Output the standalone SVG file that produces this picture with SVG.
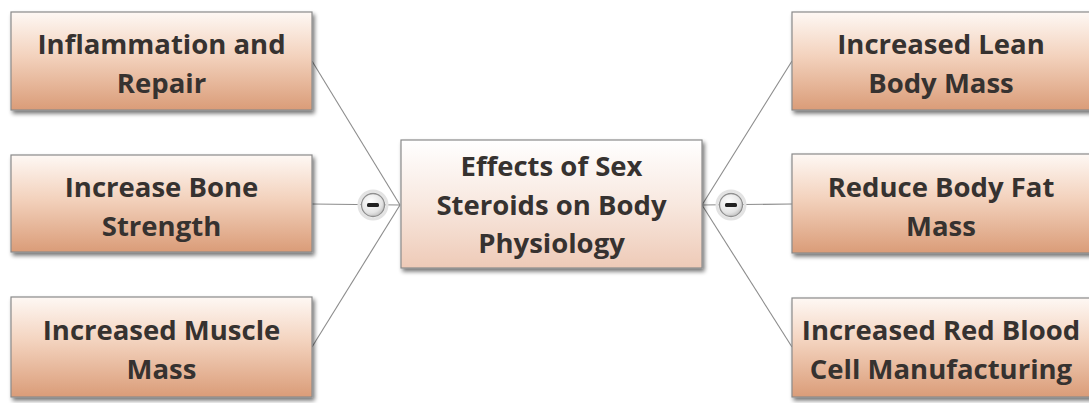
<svg xmlns="http://www.w3.org/2000/svg" width="1089" height="403" viewBox="0 0 1089 403">
<defs>
<linearGradient id="gSub" x1="0" y1="0" x2="0" y2="1">
<stop offset="0" stop-color="#fef8f4"/>
<stop offset="0.45" stop-color="#f3d2bd"/>
<stop offset="1" stop-color="#da9c78"/>
</linearGradient>
<linearGradient id="gMain" x1="0" y1="0" x2="0" y2="1">
<stop offset="0" stop-color="#ffffff"/>
<stop offset="0.5" stop-color="#f8e8df"/>
<stop offset="1" stop-color="#eecab7"/>
</linearGradient>
<radialGradient id="gBtn" cx="0.4" cy="0.35" r="0.7">
<stop offset="0" stop-color="#ffffff"/>
<stop offset="0.7" stop-color="#e4e4e4"/>
<stop offset="1" stop-color="#bdbdbd"/>
</radialGradient>
<filter id="sh" x="-5%" y="-10%" width="115%" height="130%">
<feGaussianBlur in="SourceAlpha" stdDeviation="2"/>
<feOffset dx="2" dy="3" result="b"/>
<feComponentTransfer><feFuncA type="linear" slope="0.55"/></feComponentTransfer>
<feMerge><feMergeNode/><feMergeNode in="SourceGraphic"/></feMerge>
</filter>
</defs>
<style>
.box{fill:url(#gSub);stroke:#8a8a8a;stroke-width:1.2;filter:url(#sh)}
.main{fill:url(#gMain);stroke:#8a8a8a;stroke-width:1.2;filter:url(#sh)}
.t{font-family:"Open Sans","Noto Sans",sans-serif;font-weight:bold;font-size:27.5px;fill:#363230;text-anchor:middle}
.ln{stroke:#8c8c8c;stroke-width:1.1;fill:none}
.btn{fill:url(#gBtn);stroke:#8f8f8f;stroke-width:1.3}
.halo{fill:none;stroke:#e3e3e3;stroke-width:3}
.minus{fill:#222}
</style>
<rect width="1089" height="403" fill="#ffffff"/>
<g id="connectors">
<line class="ln" x1="312" y1="61" x2="400" y2="205"/>
<line class="ln" x1="312" y1="204" x2="400" y2="205"/>
<line class="ln" x1="312" y1="347" x2="400" y2="205"/>
<line class="ln" x1="702" y1="205" x2="792" y2="61"/>
<line class="ln" x1="702" y1="205" x2="792" y2="204"/>
<line class="ln" x1="702" y1="205" x2="792" y2="347"/>
</g>
<g id="node-center">
<rect class="main" x="401" y="140" width="301" height="128"/>
<text class="t" x="551.5" y="176">Effects of Sex</text>
<text class="t" x="551.5" y="215">Steroids on Body</text>
<text class="t" x="551.5" y="253">Physiology</text>
</g>
<g id="node-inflammation">
<rect class="box" x="11" y="12" width="301" height="98"/>
<text class="t" x="161.5" y="54">Inflammation and</text>
<text class="t" x="161.5" y="93">Repair</text>
</g>
<g id="node-bone">
<rect class="box" x="11" y="155" width="301" height="97"/>
<text class="t" x="161.5" y="197">Increase Bone</text>
<text class="t" x="161.5" y="236">Strength</text>
</g>
<g id="node-muscle">
<rect class="box" x="11" y="297" width="301" height="100"/>
<text class="t" x="161.5" y="340">Increased Muscle</text>
<text class="t" x="161.5" y="379">Mass</text>
</g>
<g id="node-lean">
<rect class="box" x="792" y="12" width="302" height="98"/>
<text class="t" x="941" y="54">Increased Lean</text>
<text class="t" x="941" y="93">Body Mass</text>
</g>
<g id="node-fat">
<rect class="box" x="792" y="154" width="302" height="99"/>
<text class="t" x="941" y="197">Reduce Body Fat</text>
<text class="t" x="941" y="236">Mass</text>
</g>
<g id="node-rbc">
<rect class="box" x="792" y="298" width="302" height="99"/>
<text class="t" x="941" y="340">Increased Red Blood</text>
<text class="t" x="941" y="379">Cell Manufacturing</text>
</g>
<g id="btn-left">
<circle class="halo" cx="373" cy="205" r="14"/>
<circle class="btn" cx="373" cy="205" r="11.5"/>
<rect class="minus" x="367" y="203" width="12" height="4" rx="1.5"/>
</g>
<g id="btn-right">
<circle class="halo" cx="731" cy="205" r="14"/>
<circle class="btn" cx="731" cy="205" r="11.5"/>
<rect class="minus" x="725" y="203" width="12" height="4" rx="1.5"/>
</g>
</svg>
